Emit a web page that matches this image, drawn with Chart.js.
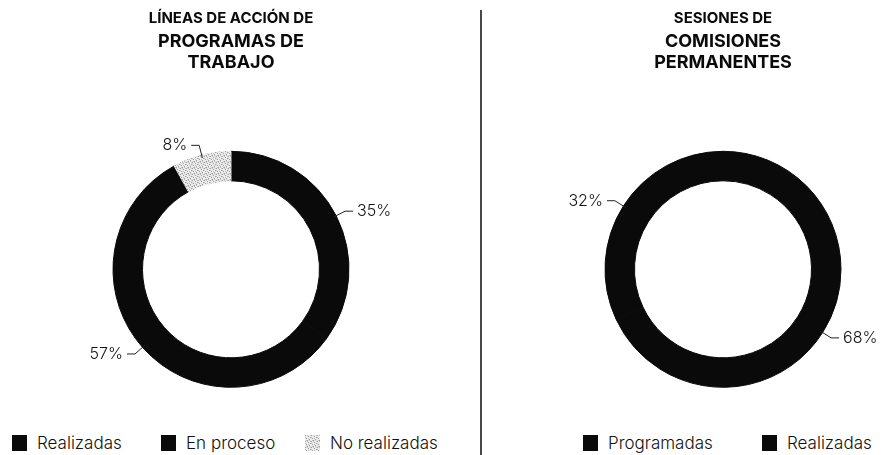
<!DOCTYPE html>
<html>
<head>
<meta charset="utf-8">
<script src="https://cdn.jsdelivr.net/npm/chart.js@4.4.1/dist/chart.umd.min.js"></script>
<style>
  body { margin: 0; width: 883px; height: 455px; background: #fff; position: relative; overflow: hidden; font-family: Inter, sans-serif; }
  .panel { position: absolute; top: 0; height: 420px; }
  #panelLeft { left: 0; width: 462px; }
  #panelRight { left: 565px; width: 316px; }
  .divider { position: absolute; left: 480px; top: 10px; width: 2px; height: 445px; background: #474747; }
  .legend { position: absolute; top: 433px; left: 0; width: 883px; height: 20px; }
  .item { position: absolute; top: 0; display: flex; align-items: center; font-size: 17px; font-weight: 300; color: #111; white-space: nowrap; }
  .sw { width: 15px; height: 16px; margin-right: 10px; background: #0a0a0a; }
</style>
</head>
<body>
<div class="panel" id="panelLeft"><canvas id="chartTrabajo"></canvas></div>
<div class="divider"></div>
<div class="panel" id="panelRight"><canvas id="chartSesiones"></canvas></div>
<div class="legend" id="legend"></div>
<script>
const trabajoLabels = ['Realizadas', 'En proceso', 'No realizadas'];
const trabajoValues = [35, 57, 8];
const sesionesLabels = ['Programadas', 'Realizadas'];
const sesionesValues = [68, 32];

// x offsets of the legend entries under each ring
const trabajoLegendX = [12, 161, 305];
const sesionesLegendX = [583, 762];

// light stippled fill for the "No realizadas" slice
function stippleCanvas() {
  const c = document.createElement('canvas');
  c.width = 6; c.height = 6;
  const g = c.getContext('2d');
  g.fillStyle = '#ececec';
  g.fillRect(0, 0, 6, 6);
  g.fillStyle = '#9a9a9a';
  [[0, 0], [3, 1], [1, 3], [4, 4], [5, 2], [2, 5]].forEach(([x, y]) => g.fillRect(x, y, 1, 1));
  g.fillStyle = '#c4c4c4';
  [[2, 0], [5, 0], [0, 2], [3, 3], [1, 5], [4, 5]].forEach(([x, y]) => g.fillRect(x, y, 1, 1));
  return c;
}
const stipple = stippleCanvas();
const stipplePattern = stipple.getContext('2d').createPattern(stipple, 'repeat');

Chart.defaults.font.family = 'Inter, sans-serif';
Chart.defaults.color = '#0a0a0a';

// percentage labels with a short leader line
const pctLabels = {
  id: 'pctLabels',
  afterDatasetsDraw(chart) {
    const ctx = chart.ctx;
    const meta = chart.getDatasetMeta(0);
    const values = chart.data.datasets[0].data;
    ctx.save();
    ctx.strokeStyle = '#222';
    ctx.lineWidth = 1;
    ctx.fillStyle = '#111';
    ctx.font = '300 16px Inter, sans-serif';
    ctx.textBaseline = 'middle';
    meta.data.forEach((arc, i) => {
      const p = arc.getProps(['x', 'y', 'startAngle', 'endAngle', 'outerRadius'], true);
      const mid = (p.startAngle + p.endAngle) / 2;
      const cos = Math.cos(mid), sin = Math.sin(mid);
      const side = cos >= 0 ? 1 : -1;
      const x0 = p.x + cos * (p.outerRadius - 3), y0 = p.y + sin * (p.outerRadius - 3);
      const x1 = p.x + cos * (p.outerRadius + 10), y1 = p.y + sin * (p.outerRadius + 10);
      const x2 = x1 + side * 8;
      ctx.beginPath();
      ctx.moveTo(x0, y0);
      ctx.lineTo(x1, y1);
      ctx.lineTo(x2, y1);
      ctx.stroke();
      ctx.textAlign = side > 0 ? 'left' : 'right';
      ctx.fillText(values[i] + '%', x2 + side * 4, y1);
    });
    ctx.restore();
  }
};

function ringChart(id, labels, values, colors, title, subtitle) {
  return new Chart(document.getElementById(id), {
    type: 'doughnut',
    data: {
      labels: labels,
      datasets: [{
        data: values,
        backgroundColor: colors,
        borderColor: colors,
        borderWidth: 1,
        radius: 118,
        cutout: '75%',
        clip: false
      }]
    },
    options: {
      responsive: true,
      maintainAspectRatio: false,
      animation: false,
      layout: { padding: 0 },
      plugins: {
        legend: { display: false },
        tooltip: { enabled: false },
        title: {
          display: true,
          text: title,
          font: { size: 15, weight: 'bold', lineHeight: 1.1 },
          padding: { top: 10, bottom: 5 }
        },
        subtitle: {
          display: true,
          text: subtitle,
          color: '#0a0a0a',
          font: { size: 18, weight: 'bold', lineHeight: 1.17 },
          padding: { top: 0, bottom: 45 }
        }
      }
    },
    plugins: [pctLabels]
  });
}

ringChart('chartTrabajo', trabajoLabels, trabajoValues,
  ['#0a0a0a', '#0a0a0a', stipplePattern],
  'LÍNEAS DE ACCIÓN DE', ['PROGRAMAS DE', 'TRABAJO']);

ringChart('chartSesiones', sesionesLabels, sesionesValues,
  ['#0a0a0a', '#0a0a0a'],
  'SESIONES DE', ['COMISIONES', 'PERMANENTES']);

// legend entries drawn as html under each ring
const legend = document.getElementById('legend');
function addLegend(labels, xs, swatches) {
  labels.forEach((label, i) => {
    const item = document.createElement('div');
    item.className = 'item';
    item.style.left = xs[i] + 'px';
    const sw = document.createElement('span');
    sw.className = 'sw';
    if (swatches[i]) sw.style.background = swatches[i];
    const txt = document.createElement('span');
    txt.textContent = label;
    item.appendChild(sw);
    item.appendChild(txt);
    legend.appendChild(item);
  });
}
addLegend(trabajoLabels, trabajoLegendX, [null, null, 'url(' + stipple.toDataURL() + ')']);
addLegend(sesionesLabels, sesionesLegendX, [null, null]);
</script>
</body>
</html>
